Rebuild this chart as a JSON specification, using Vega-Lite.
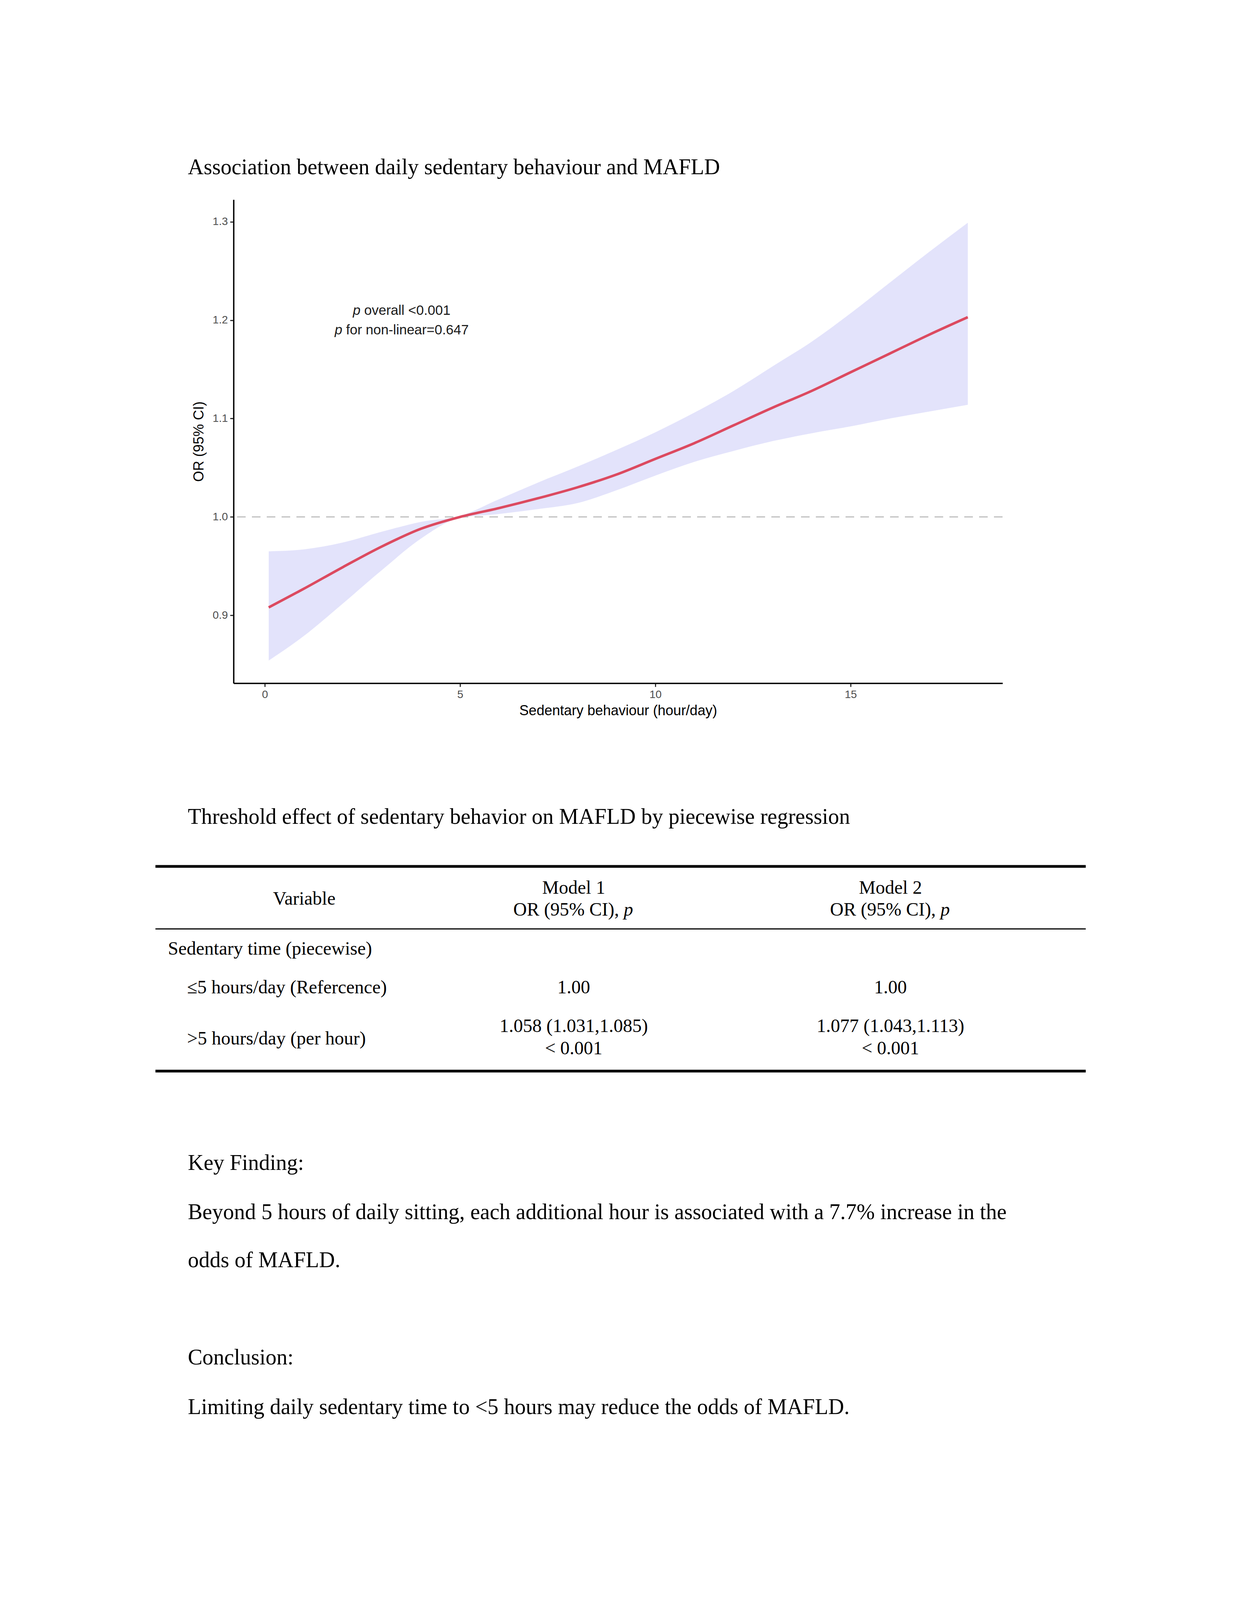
{
  "$schema": "https://vega.github.io/schema/vega-lite/v6.json",
  "width": 1969,
  "height": 1238,
  "autosize": "none",
  "padding": {"left": 598, "top": 511, "right": 608, "bottom": 2741},
  "background": "white",
  "config": {"view": {"stroke": null}},
  "datasets": {
    "curve": [
      {"hours": 0.1, "or": 0.908, "lower": 0.854, "upper": 0.965},
      {"hours": 1, "or": 0.927, "lower": 0.879, "upper": 0.967},
      {"hours": 2, "or": 0.949, "lower": 0.912, "upper": 0.974},
      {"hours": 3, "or": 0.970, "lower": 0.946, "upper": 0.985},
      {"hours": 4, "or": 0.988, "lower": 0.978, "upper": 0.995},
      {"hours": 5, "or": 1.000, "lower": 0.999, "upper": 1.001},
      {"hours": 6, "or": 1.009, "lower": 1.003, "upper": 1.018},
      {"hours": 7, "or": 1.019, "lower": 1.008, "upper": 1.035},
      {"hours": 8, "or": 1.030, "lower": 1.014, "upper": 1.051},
      {"hours": 9, "or": 1.043, "lower": 1.027, "upper": 1.068},
      {"hours": 10, "or": 1.059, "lower": 1.042, "upper": 1.086},
      {"hours": 11, "or": 1.075, "lower": 1.056, "upper": 1.106},
      {"hours": 12, "or": 1.093, "lower": 1.067, "upper": 1.128},
      {"hours": 13, "or": 1.111, "lower": 1.077, "upper": 1.153},
      {"hours": 14, "or": 1.128, "lower": 1.085, "upper": 1.178},
      {"hours": 15, "or": 1.147, "lower": 1.092, "upper": 1.207},
      {"hours": 16, "or": 1.166, "lower": 1.100, "upper": 1.238},
      {"hours": 17, "or": 1.185, "lower": 1.107, "upper": 1.269},
      {"hours": 18, "or": 1.203, "lower": 1.114, "upper": 1.299}
    ],
    "notes": [
      {"x": 2.255, "or": 1.2098, "rest": "overall <0.001"},
      {"x": 1.79, "or": 1.1898, "rest": "for non-linear=0.647"}
    ],
    "doc": [
      {"line": 0, "text": "Association between daily sedentary behaviour and MAFLD"},
      {"line": 1, "text": "Threshold effect of sedentary behavior on MAFLD by piecewise regression"},
      {"line": 13, "text": "Key Finding:"},
      {"line": 14, "text": "Beyond 5 hours of daily sitting, each additional hour is associated with a 7.7% increase in the"},
      {"line": 15, "text": "odds of MAFLD."},
      {"line": 16, "text": "Conclusion:"},
      {"line": 17, "text": "Limiting daily sedentary time to <5 hours may reduce the odds of MAFLD."}
    ],
    "cells": [
      {"col": 0, "line": 4, "text": "Variable"},
      {"col": 1, "line": 3, "text": "Model 1"},
      {"col": 2, "line": 3, "text": "Model 2"},
      {"col": 1, "line": 8, "text": "1.00"},
      {"col": 2, "line": 8, "text": "1.00"},
      {"col": 1, "line": 9, "text": "1.058 (1.031,1.085)"},
      {"col": 2, "line": 9, "text": "1.077 (1.043,1.113)"},
      {"col": 1, "line": 11, "text": "< 0.001"},
      {"col": 2, "line": 11, "text": "< 0.001"}
    ],
    "heads": [
      {"col": 1, "line": 5, "text": "OR (95% CI),"},
      {"col": 2, "line": 5, "text": "OR (95% CI),"}
    ],
    "labels": [
      {"level": 0, "line": 7, "text": "Sedentary time (piecewise)"},
      {"level": 1, "line": 8, "text": "≤5 hours/day (Refercence)"},
      {"level": 1, "line": 10, "text": ">5 hours/day (per hour)"}
    ]
  },
  "resolve": {"scale": {"x": "independent", "y": "independent"}},
  "layer": [
    {
      "data": {"name": "curve"},
      "mark": {"type": "area", "color": "#e3e3fb", "interpolate": "monotone"},
      "encoding": {
        "x": {
          "field": "hours",
          "type": "quantitative",
          "scale": {"domain": [-0.8, 18.89], "nice": false, "zero": false},
          "axis": {
            "title": "Sedentary behaviour (hour/day)",
            "values": [0, 5, 10, 15],
            "grid": false,
            "domainColor": "black",
            "domainWidth": 3.5,
            "tickColor": "#333333",
            "tickWidth": 3,
            "tickSize": 9,
            "labelFont": "Liberation Sans",
            "labelFontSize": 28,
            "labelColor": "#4d4d4d",
            "labelPadding": 6,
            "titleFont": "Liberation Sans",
            "titleFontSize": 36,
            "titleFontWeight": "normal",
            "titleColor": "black",
            "titlePadding": 10
          }
        },
        "y": {
          "field": "lower",
          "type": "quantitative",
          "scale": {"domain": [0.831, 1.3225], "nice": false, "zero": false},
          "axis": {
            "title": "OR (95% CI)",
            "values": [0.9, 1.0, 1.1, 1.2, 1.3],
            "format": ".1f",
            "grid": false,
            "domainColor": "black",
            "domainWidth": 3.5,
            "tickColor": "#333333",
            "tickWidth": 3,
            "tickSize": 9,
            "labelFont": "Liberation Sans",
            "labelFontSize": 28,
            "labelColor": "#4d4d4d",
            "labelPadding": 6,
            "titleFont": "Liberation Sans",
            "titleFontSize": 36,
            "titleFontWeight": "normal",
            "titleColor": "black",
            "titlePadding": 16
          }
        },
        "y2": {"field": "upper"}
      }
    },
    {
      "data": {"values": [{"ref": 1}]},
      "mark": {"type": "rule", "color": "#bfbfbf", "strokeWidth": 3, "strokeDash": [22, 16]},
      "encoding": {
        "y": {"field": "ref", "type": "quantitative", "scale": {"domain": [0.831, 1.3225], "nice": false, "zero": false}, "axis": null}
      }
    },
    {
      "data": {"name": "curve"},
      "mark": {"type": "line", "color": "#dc4a60", "strokeWidth": 6.5, "interpolate": "monotone"},
      "encoding": {
        "x": {"field": "hours", "type": "quantitative", "scale": {"domain": [-0.8, 18.89], "nice": false, "zero": false}, "axis": null},
        "y": {"field": "or", "type": "quantitative", "scale": {"domain": [0.831, 1.3225], "nice": false, "zero": false}, "axis": null}
      }
    },
    {
      "data": {"name": "notes"},
      "mark": {"type": "text", "font": "Liberation Sans", "fontSize": 35, "fontStyle": "italic", "align": "left", "baseline": "middle", "color": "#1a1a1a"},
      "encoding": {
        "x": {"field": "x", "type": "quantitative", "scale": {"domain": [-0.8, 18.89], "nice": false, "zero": false}, "axis": null},
        "y": {"field": "or", "type": "quantitative", "scale": {"domain": [0.831, 1.3225], "nice": false, "zero": false}, "axis": null},
        "text": {"value": "p"}
      }
    },
    {
      "data": {"name": "notes"},
      "mark": {"type": "text", "font": "Liberation Sans", "fontSize": 35, "align": "left", "baseline": "middle", "dx": 29, "color": "#1a1a1a"},
      "encoding": {
        "x": {"field": "x", "type": "quantitative", "scale": {"domain": [-0.8, 18.89], "nice": false, "zero": false}, "axis": null},
        "y": {"field": "or", "type": "quantitative", "scale": {"domain": [0.831, 1.3225], "nice": false, "zero": false}, "axis": null},
        "text": {"field": "rest"}
      }
    },
    {
      "data": {"name": "doc"},
      "mark": {"type": "text", "font": "Liberation Serif", "fontSize": 56, "align": "left", "baseline": "middle", "color": "black"},
      "encoding": {
        "x": {"datum": 0, "type": "quantitative", "scale": {"domain": [0, 1], "range": [-117, 0]}, "axis": null},
        "y": {
          "field": "line",
          "type": "quantitative",
          "scale": {
            "domain": [0, 1, 2, 3, 4, 5, 6, 7, 8, 9, 10, 11, 12, 13, 14, 15, 16, 17],
            "range": [-82, 1581, 1707, 1763, 1791, 1819, 1867, 1919, 2018, 2117, 2149, 2174, 2231, 2467, 2593, 2716, 2965, 3092],
            "nice": false,
            "zero": false
          },
          "axis": null
        },
        "text": {"field": "text"}
      }
    },
    {
      "data": {"values": [{"line": 2}, {"line": 12}]},
      "mark": {"type": "rule", "color": "black", "strokeWidth": 7},
      "encoding": {
        "x": {"datum": 0, "type": "quantitative", "scale": {"domain": [0, 1], "range": [-200, 2182]}, "axis": null},
        "x2": {"datum": 1},
        "y": {
          "field": "line",
          "type": "quantitative",
          "scale": {
            "domain": [0, 1, 2, 3, 4, 5, 6, 7, 8, 9, 10, 11, 12, 13, 14, 15, 16, 17],
            "range": [-82, 1581, 1707, 1763, 1791, 1819, 1867, 1919, 2018, 2117, 2149, 2174, 2231, 2467, 2593, 2716, 2965, 3092],
            "nice": false,
            "zero": false
          },
          "axis": null
        }
      }
    },
    {
      "data": {"values": [{"line": 6}]},
      "mark": {"type": "rule", "color": "black", "strokeWidth": 3},
      "encoding": {
        "x": {"datum": 0, "type": "quantitative", "scale": {"domain": [0, 1], "range": [-200, 2182]}, "axis": null},
        "x2": {"datum": 1},
        "y": {
          "field": "line",
          "type": "quantitative",
          "scale": {
            "domain": [0, 1, 2, 3, 4, 5, 6, 7, 8, 9, 10, 11, 12, 13, 14, 15, 16, 17],
            "range": [-82, 1581, 1707, 1763, 1791, 1819, 1867, 1919, 2018, 2117, 2149, 2174, 2231, 2467, 2593, 2716, 2965, 3092],
            "nice": false,
            "zero": false
          },
          "axis": null
        }
      }
    },
    {
      "data": {"name": "cells"},
      "mark": {"type": "text", "font": "Liberation Serif", "fontSize": 48, "align": "center", "baseline": "middle", "color": "black"},
      "encoding": {
        "x": {"field": "col", "type": "quantitative", "scale": {"domain": [0, 1, 2], "range": [181, 871, 1682]}, "axis": null},
        "y": {
          "field": "line",
          "type": "quantitative",
          "scale": {
            "domain": [0, 1, 2, 3, 4, 5, 6, 7, 8, 9, 10, 11, 12, 13, 14, 15, 16, 17],
            "range": [-82, 1581, 1707, 1763, 1791, 1819, 1867, 1919, 2018, 2117, 2149, 2174, 2231, 2467, 2593, 2716, 2965, 3092],
            "nice": false,
            "zero": false
          },
          "axis": null
        },
        "text": {"field": "text"}
      }
    },
    {
      "data": {"name": "heads"},
      "mark": {"type": "text", "font": "Liberation Serif", "fontSize": 48, "align": "right", "baseline": "middle", "dx": 116, "color": "black"},
      "encoding": {
        "x": {"field": "col", "type": "quantitative", "scale": {"domain": [0, 1, 2], "range": [181, 871, 1682]}, "axis": null},
        "y": {
          "field": "line",
          "type": "quantitative",
          "scale": {
            "domain": [0, 1, 2, 3, 4, 5, 6, 7, 8, 9, 10, 11, 12, 13, 14, 15, 16, 17],
            "range": [-82, 1581, 1707, 1763, 1791, 1819, 1867, 1919, 2018, 2117, 2149, 2174, 2231, 2467, 2593, 2716, 2965, 3092],
            "nice": false,
            "zero": false
          },
          "axis": null
        },
        "text": {"field": "text"}
      }
    },
    {
      "data": {"name": "heads"},
      "mark": {"type": "text", "font": "Liberation Serif", "fontSize": 48, "fontStyle": "italic", "align": "left", "baseline": "middle", "dx": 128, "color": "black"},
      "encoding": {
        "x": {"field": "col", "type": "quantitative", "scale": {"domain": [0, 1, 2], "range": [181, 871, 1682]}, "axis": null},
        "y": {
          "field": "line",
          "type": "quantitative",
          "scale": {
            "domain": [0, 1, 2, 3, 4, 5, 6, 7, 8, 9, 10, 11, 12, 13, 14, 15, 16, 17],
            "range": [-82, 1581, 1707, 1763, 1791, 1819, 1867, 1919, 2018, 2117, 2149, 2174, 2231, 2467, 2593, 2716, 2965, 3092],
            "nice": false,
            "zero": false
          },
          "axis": null
        },
        "text": {"value": "p"}
      }
    },
    {
      "data": {"name": "labels"},
      "mark": {"type": "text", "font": "Liberation Serif", "fontSize": 48, "align": "left", "baseline": "middle", "color": "black"},
      "encoding": {
        "x": {"field": "level", "type": "quantitative", "scale": {"domain": [0, 1], "range": [-168, -119]}, "axis": null},
        "y": {
          "field": "line",
          "type": "quantitative",
          "scale": {
            "domain": [0, 1, 2, 3, 4, 5, 6, 7, 8, 9, 10, 11, 12, 13, 14, 15, 16, 17],
            "range": [-82, 1581, 1707, 1763, 1791, 1819, 1867, 1919, 2018, 2117, 2149, 2174, 2231, 2467, 2593, 2716, 2965, 3092],
            "nice": false,
            "zero": false
          },
          "axis": null
        },
        "text": {"field": "text"}
      }
    }
  ]
}
